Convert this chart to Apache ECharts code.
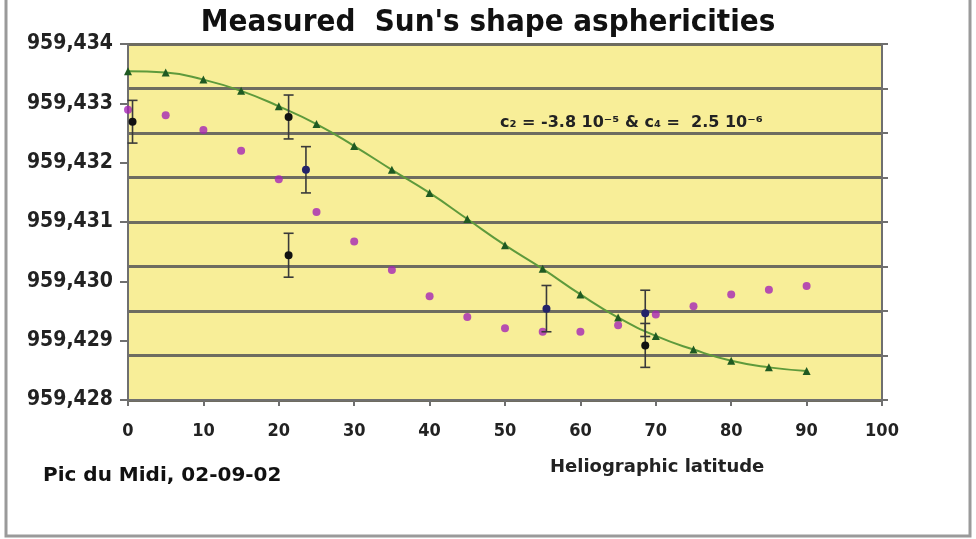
<!DOCTYPE html>
<html>
<head>
<meta charset="utf-8">
<script src="https://cdn.jsdelivr.net/npm/echarts@6/dist/echarts.min.js"></script>
<style>
html, body { margin: 0; padding: 0; background: #fff; }
#main { width: 976px; height: 539px; }
</style>
</head>
<body>
<div id="main"></div>
<script>
// heliographic latitude of the fitted curve and of the model points
var latitudes = [0, 5, 10, 15, 20, 25, 30, 35, 40, 45, 50, 55, 60, 65, 70, 75, 80, 85, 90];
// green fitted curve (c2 / c4)
var fitVals = [959.43354, 959.43352, 959.43340, 959.43321, 959.43295, 959.43265, 959.43228, 959.43188,
    959.43149, 959.43105, 959.43061, 959.43021, 959.42978, 959.42939, 959.42908, 959.42885,
    959.42866, 959.42855, 959.42849];
// magenta points
var modelVals = [959.43289, 959.43280, 959.43255, 959.43220, 959.43172, 959.43117, 959.43067, 959.43019,
    959.42975, 959.42940, 959.42921, 959.42915, 959.42915, 959.42926, 959.42944, 959.42958,
    959.42978, 959.42986, 959.42992];
// measured points with error bars
var measLat = [0.6, 21.3, 23.6, 21.3, 55.5, 68.6, 68.6];
var measVal = [959.43269, 959.43277, 959.43188, 959.43044, 959.42954, 959.42946, 959.42892];
var measErr = [0.00036, 0.00037, 0.00039, 0.00037, 0.00039, 0.00039, 0.00037];
var measColor = ['#111111', '#111111', '#23236a', '#111111', '#23236a', '#23236a', '#111111'];

var xTicks = [0, 100, 10];
var yTicks = [959.428, 959.434, 0.001];

var narrow = "'DejaVu Sans Condensed', 'Liberation Sans Narrow', 'Liberation Sans', sans-serif";
var wide = "'DejaVu Sans', 'Liberation Sans', sans-serif";

var fitData = [], modelData = [], measData = [];
for (var i = 0; i < latitudes.length; i++) {
    fitData.push([latitudes[i], fitVals[i]]);
    modelData.push([latitudes[i], modelVals[i]]);
}
for (var j = 0; j < measLat.length; j++) {
    measData.push([measLat[j], measVal[j], measErr[j], j]);
}

function renderErr(params, api) {
    var x = api.value(0), y = api.value(1), e = api.value(2), k = api.value(3);
    var top = api.coord([x, y + e]);
    var bot = api.coord([x, y - e]);
    var mid = api.coord([x, y]);
    var w = 5;
    var st = { stroke: '#3a3a3a', lineWidth: 1.6 };
    return {
        type: 'group',
        children: [
            { type: 'line', shape: { x1: top[0], y1: top[1], x2: bot[0], y2: bot[1] }, style: st },
            { type: 'line', shape: { x1: top[0] - w, y1: top[1], x2: top[0] + w, y2: top[1] }, style: st },
            { type: 'line', shape: { x1: bot[0] - w, y1: bot[1], x2: bot[0] + w, y2: bot[1] }, style: st },
            { type: 'circle', shape: { cx: mid[0], cy: mid[1], r: 4 }, style: { fill: measColor[k] } }
        ]
    };
}

var myChart = echarts.init(document.getElementById('main'));
var option = {
    animation: false,
    backgroundColor: '#ffffff',
    title: {
        text: "Measured  Sun's shape asphericities",
        left: 'center',
        top: 2,
        textStyle: { fontFamily: narrow, fontSize: 31, fontWeight: 'bold', color: '#111' }
    },
    grid: { left: 128, right: 94, top: 44, bottom: 139, show: true, backgroundColor: '#f8ee98', borderWidth: 0 },
    xAxis: {
        type: 'value',
        min: xTicks[0], max: xTicks[1], interval: xTicks[2],
        axisLine: { lineStyle: { color: '#6f6f6f', width: 2 } },
        axisTick: { show: true, length: 6, lineStyle: { color: '#6f6f6f', width: 2 } },
        splitLine: { show: false },
        axisLabel: { margin: 22, fontFamily: narrow, fontSize: 18, fontWeight: 'bold', color: '#222' }
    },
    yAxis: [{
        type: 'value',
        min: yTicks[0], max: yTicks[1], interval: yTicks[2],
        axisLine: { show: true, lineStyle: { color: '#6f6f6f', width: 2 } },
        axisTick: { show: true, length: 8, lineStyle: { color: '#6f6f6f', width: 2 } },
        splitLine: { show: false },
        axisLabel: {
            margin: 15, fontFamily: narrow, fontSize: 21, fontWeight: 'bold', color: '#222',
            formatter: function (v) { return v.toFixed(3).replace('.', ','); }
        }
    }, {
        type: 'value',
        position: 'right',
        min: 0, max: 8, interval: 1,
        axisLine: { show: true, lineStyle: { color: '#6f6f6f', width: 2 } },
        axisTick: { show: true, length: 6, lineStyle: { color: '#6f6f6f', width: 2 } },
        axisLabel: { show: false },
        splitLine: { show: true, lineStyle: { color: '#6e6c60', width: 3 } }
    }],
    graphic: [
        {
            type: 'rect', silent: true, z: -1,
            shape: { x: 6, y: -10, width: 964, height: 546 },
            style: { fill: null, stroke: '#9a9a9a', lineWidth: 3 }
        },
        {
            type: 'text', left: 500, top: 115, z: 10,
            style: { text: 'c\u2082 = -3.8 10\u207B\u2075 & c\u2084 =  2.5 10\u207B\u2076', fontFamily: wide, fontSize: 16, fontWeight: 'bold', fill: '#222' }
        },
        {
            type: 'text', left: 43, top: 466,
            style: { text: 'Pic du Midi, 02-09-02', fontFamily: wide, fontSize: 20, fontWeight: 'bold', fill: '#111' }
        },
        {
            type: 'text', left: 550, top: 458,
            style: { text: 'Heliographic latitude', fontFamily: wide, fontSize: 18, fontWeight: 'bold', fill: '#222' }
        }
    ],
    series: [{
        name: 'fit',
        type: 'line',
        smooth: true,
        data: fitData,
        symbol: 'triangle',
        symbolSize: 8,
        lineStyle: { color: '#5e9a3c', width: 2 },
        itemStyle: { color: '#1f5a22' },
        z: 3
    }, {
        name: 'model',
        type: 'scatter',
        data: modelData,
        symbol: 'circle',
        symbolSize: 8,
        itemStyle: { color: '#a526b5' },
        z: 4
    }, {
        name: 'measured',
        type: 'custom',
        renderItem: renderErr,
        data: measData,
        encode: { x: 0, y: 1 },
        z: 5
    }]
};
myChart.setOption(option);
window.addEventListener('resize', function () {
    myChart.resize();
});
</script>
</body>
</html>
